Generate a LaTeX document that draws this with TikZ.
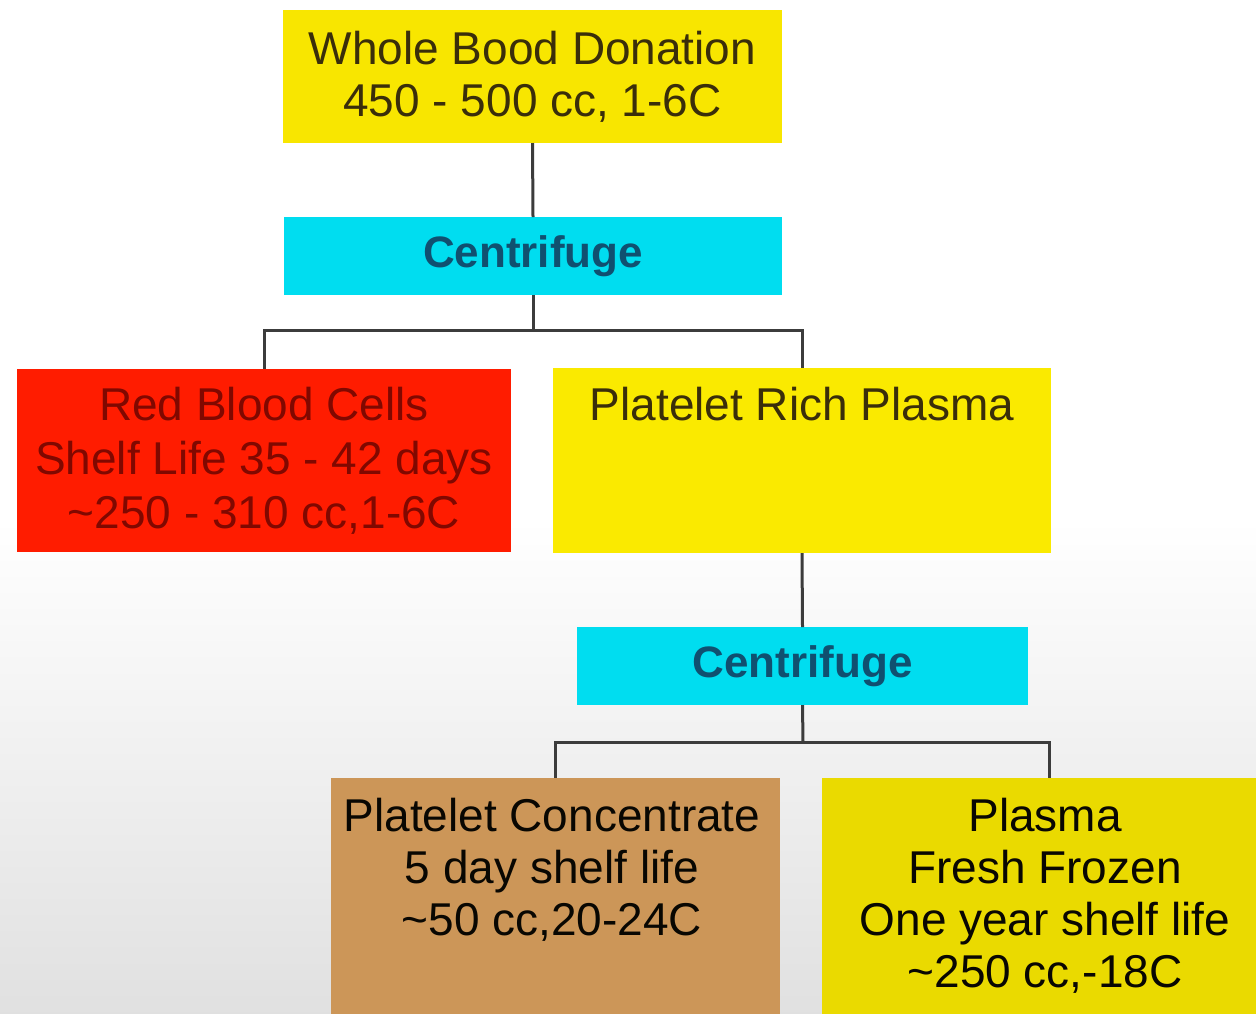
\documentclass[tikz,border=0pt]{standalone}
\usepackage{fontspec}
\setmainfont{Liberation Sans}
\definecolor{yelA}{RGB}{248,230,0}
\definecolor{yelB}{RGB}{250,234,0}
\definecolor{yelC}{RGB}{234,218,0}
\definecolor{cyanbox}{RGB}{0,221,240}
\definecolor{redbox}{RGB}{255,28,0}
\definecolor{tanbox}{RGB}{204,150,88}
\definecolor{txtdark}{RGB}{58,46,10}
\definecolor{txtred}{RGB}{128,8,0}
\definecolor{txtblue}{RGB}{16,80,112}
\definecolor{linegray}{RGB}{60,60,60}
\tikzset{
  box/.style={rectangle, inner sep=0pt, outer sep=0pt, draw=none},
  lbl/.style={align=center, inner sep=0pt, font=\fontsize{23}{26}\selectfont, text=txtdark},
  cent/.style={box, fill=cyanbox, text=txtblue, font=\fontsize{22}{26}\selectfont\bfseries},
  conn/.style={draw=linegray, line width=1.5pt}
}
\begin{document}
\begin{tikzpicture}[x=0.5pt,y=-0.5pt]
\useasboundingbox (0,0) rectangle (1256,1013);
\clip (0,0) rectangle (1256,1013);
% background
\fill[white] (0,0) rectangle (1256,520);
\shade[top color=white, bottom color=black!12] (0,520) rectangle (1256,1013);

% boxes
\node[box, fill=yelA, minimum width=249.5pt, minimum height=66.5pt, lbl] (top) at (532.5,76.5)
  {Whole Bood Donation\\450 - 500 cc, 1-6C};
\node[cent, minimum width=249pt, minimum height=39pt] (c1) at (533,256) {Centrifuge};
\node[box, fill=redbox, minimum width=247pt, minimum height=91.5pt, lbl, text=txtred,
  font=\fontsize{23}{27}\selectfont] (red) at (264,460.5)
  {Red Blood Cells\\Shelf Life 35 - 42 days\\\textasciitilde 250 - 310 cc,1-6C};
\node[box, fill=yelB, minimum width=249pt, minimum height=92.5pt] (prp) at (802,460.5) {};
\node[lbl] (prpT) at (802,404) {Platelet Rich Plasma};
\node[cent, minimum width=225.5pt, minimum height=39pt] (c2) at (802.5,666) {Centrifuge};
\node[box, fill=tanbox, minimum width=224.5pt, minimum height=126pt] (pc) at (555.5,904) {};
\node[lbl, text=black!85!txtdark] (pcT) at (552,869.5)
  {Platelet Concentrate\\5 day shelf life\\\textasciitilde 50 cc,20-24C};
\node[box, fill=yelC, minimum width=227pt, minimum height=126pt] (pl) at (1049,904) {};
\node[lbl, text=black!85!txtdark] (plT) at (1045,895.5)
  {Plasma\\Fresh Frozen\\One year shelf life\\\textasciitilde 250 cc,-18C};

% connectors
\coordinate (j1) at (533,330);
\coordinate (j2) at (803,742);
\draw[conn] (top.south) -- (c1.north);
\draw[conn] (c1.south) -- (j1);
\draw[conn] (j1) -| (red.north);
\draw[conn] (j1) -| (prp.north);
\draw[conn] (prp.south) -- (c2.north);
\draw[conn] (c2.south) -- (j2);
\draw[conn] (j2) -| (pc.north);
\draw[conn] (j2) -| (pl.north);
\end{tikzpicture}
\end{document}
